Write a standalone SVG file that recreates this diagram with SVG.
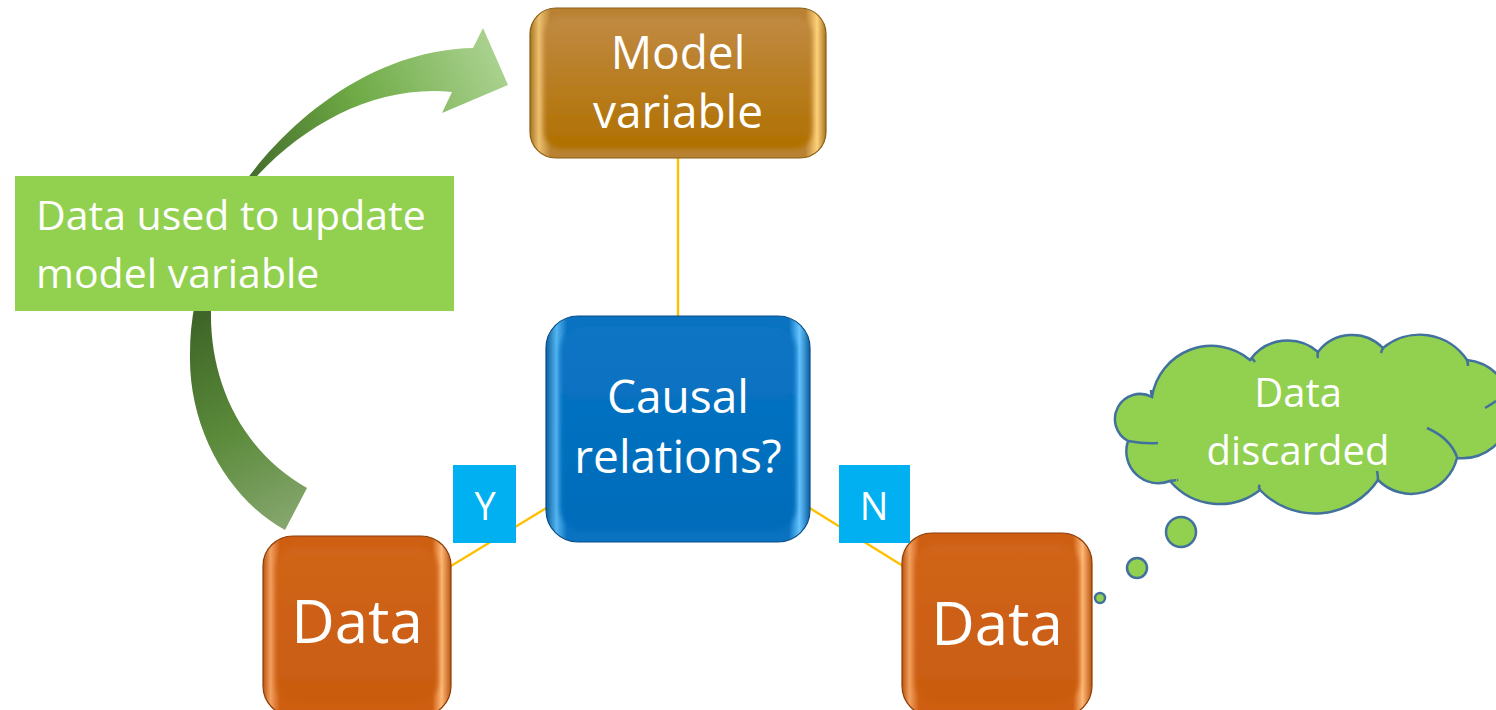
<svg xmlns="http://www.w3.org/2000/svg" width="1496" height="710" viewBox="0 0 1496 710">
<defs>
<style>
.t{font-family:"Open Sans","Noto Sans",sans-serif;fill:#fff;text-anchor:middle}
.ts{font-family:"Open Sans","Noto Sans",sans-serif;fill:#fff;text-anchor:start}
.conn{stroke:#FFC000;stroke-width:2.4;fill:none}
.cloud{fill:#92D050;stroke:#41719C;stroke-width:2.5}
.cl{fill:none;stroke:#41719C;stroke-width:2.5}
.soft{filter:url(#blur)}
</style>
<filter id="blur" x="-10%" y="-10%" width="120%" height="120%"><feGaussianBlur stdDeviation="2.5"/></filter>
<linearGradient id="orEdge" x1="0" y1="0" x2="1" y2="0">
<stop offset="0" stop-color="#B9550F"/><stop offset="0.04" stop-color="#F2A060"/><stop offset="0.09" stop-color="#CE5F12"/>
<stop offset="0.9" stop-color="#CE5F12"/><stop offset="0.95" stop-color="#FFB877"/><stop offset="1" stop-color="#B9550F"/>
</linearGradient>
<linearGradient id="orIn" x1="0" y1="0" x2="0" y2="1">
<stop offset="0" stop-color="#D0651A"/><stop offset="1" stop-color="#C95C10"/>
</linearGradient>
<linearGradient id="goEdge" x1="0" y1="0" x2="1" y2="0">
<stop offset="0" stop-color="#A5741E"/><stop offset="0.03" stop-color="#EDC070"/><stop offset="0.07" stop-color="#B98233"/>
<stop offset="0.93" stop-color="#B98233"/><stop offset="0.97" stop-color="#FFD27A"/><stop offset="1" stop-color="#A5741E"/>
</linearGradient>
<linearGradient id="goIn" x1="0" y1="0" x2="0" y2="1">
<stop offset="0" stop-color="#C08A42"/><stop offset="1" stop-color="#B07000"/>
</linearGradient>
<linearGradient id="blEdge" x1="0" y1="0" x2="1" y2="0">
<stop offset="0" stop-color="#0A5FA0"/><stop offset="0.04" stop-color="#55B5F0"/><stop offset="0.08" stop-color="#0A72C0"/>
<stop offset="0.92" stop-color="#0A72C0"/><stop offset="0.96" stop-color="#66C4FF"/><stop offset="1" stop-color="#0A5FA0"/>
</linearGradient>
<linearGradient id="blIn" x1="0" y1="0" x2="0" y2="1">
<stop offset="0" stop-color="#0A74C4"/><stop offset="1" stop-color="#006CBA"/>
</linearGradient>
<linearGradient id="arBot" gradientUnits="userSpaceOnUse" x1="200" y1="320" x2="300" y2="520">
<stop offset="0" stop-color="#3F6628"/><stop offset="0.5" stop-color="#5A8A3A"/><stop offset="1" stop-color="#86A66E"/>
</linearGradient>
<linearGradient id="arTop" gradientUnits="userSpaceOnUse" x1="240" y1="190" x2="500" y2="70">
<stop offset="0" stop-color="#3F6628"/><stop offset="0.5" stop-color="#6EAA45"/><stop offset="1" stop-color="#A9D18E"/>
</linearGradient>
<clipPath id="cA"><rect x="0" y="245" width="600" height="400"/></clipPath>
<clipPath id="cB"><rect x="0" y="0" width="600" height="245"/></clipPath>
<path id="arrow" d="M285,530 C230,500 188,430 190,353 C190,290 215,225 250,175 C300,110 380,50 473,48 L483,28 L508,85 L442,113 L452,92 C380,85 310,120 258,175 C225,215 211,260 211,312 C210,380 240,450 307,488 Z"/>
</defs>

<g id="connectors">
<line class="conn" x1="678" y1="158" x2="678" y2="318"/>
<line class="conn" x1="548" y1="507" x2="451" y2="566"/>
<line class="conn" x1="808" y1="507" x2="903" y2="566"/>
</g>

<g id="curved-arrow">
<use href="#arrow" fill="url(#arBot)" clip-path="url(#cA)"/>
<use href="#arrow" fill="url(#arTop)" clip-path="url(#cB)"/>
</g>

<g id="model-variable">
<rect x="530" y="8" width="296" height="150" rx="26" fill="url(#goEdge)" stroke="#8A5E14" stroke-width="1.2"/>
<rect class="soft" x="544" y="17" width="268" height="132" rx="18" fill="url(#goIn)"/>
<text class="t" x="678" y="69" font-size="46">Model</text>
<text class="t" x="678" y="128" font-size="46">variable</text>
</g>

<g id="causal-relations">
<rect x="546" y="316" width="264" height="226" rx="32" fill="url(#blEdge)" stroke="#0A4F88" stroke-width="1.2"/>
<rect class="soft" x="560" y="327" width="236" height="204" rx="24" fill="url(#blIn)"/>
<text class="t" x="678" y="413" font-size="46">Causal</text>
<text class="t" x="678" y="473" font-size="46">relations?</text>
</g>

<g id="data-yes">
<rect x="263" y="536" width="188" height="180" rx="30" fill="url(#orEdge)" stroke="#8E3D08" stroke-width="1.2"/>
<rect class="soft" x="276" y="547" width="162" height="156" rx="22" fill="url(#orIn)"/>
<text class="t" x="357" y="643" font-size="60">Data</text>
</g>

<g id="data-no">
<rect x="902" y="533" width="190" height="183" rx="30" fill="url(#orEdge)" stroke="#8E3D08" stroke-width="1.2"/>
<rect class="soft" x="915" y="544" width="164" height="159" rx="22" fill="url(#orIn)"/>
<text class="t" x="997" y="645" font-size="60">Data</text>
</g>

<g id="label-y">
<rect x="453" y="465" width="63" height="78" fill="#00B0F0"/>
<text class="t" x="485" y="520" font-size="38">Y</text>
</g>

<g id="label-n">
<rect x="839" y="465" width="71" height="78" fill="#00B0F0"/>
<text class="t" x="874" y="520" font-size="38">N</text>
</g>

<g id="update-label">
<rect x="15" y="176" width="439" height="135" fill="#92D050"/>
<text class="ts" x="36" y="230" font-size="41">Data used to update</text>
<text class="ts" x="36" y="288" font-size="41">model variable</text>
</g>

<g id="discarded-cloud">
<path class="cloud" d="M1152,397 A60,60 0 0 1 1250,360 A46,46 0 0 1 1318,352 A43,43 0 0 1 1383,348 A57,57 0 0 1 1467,360 A49,49 0 0 1 1457,458 A47,47 0 0 1 1378,480 A76,76 0 0 1 1260,490 A65,65 0 0 1 1170,481 A32,32 0 0 1 1128,441 A25,25 0 0 1 1152,397 Z"/>
<path class="cl" d="M1427,428 Q1450,438 1457,457"/>
<path class="cl" d="M1485,408 Q1492,404 1496,401"/>
<path class="cl" d="M1128,441 Q1145,444 1158,443"/>
<path class="cl" d="M1170,481 Q1178,480 1177,480"/>
<path class="cl" d="M1260,490 Q1258,487 1260,485"/>
<path class="cl" d="M1378,480 Q1378,476 1377,471"/>
<path class="cl" d="M1250,360 Q1252,357 1255,362"/>
<path class="cl" d="M1318,352 Q1317,355 1318,358"/>
<path class="cl" d="M1383,348 Q1382,350 1381,353"/>
<path class="cl" d="M1467,360 Q1468,363 1468,366"/>
<path class="cl" d="M1152,397 Q1151,394 1151,390"/>
<circle class="cloud" cx="1181" cy="532" r="15"/>
<circle class="cloud" cx="1137" cy="568" r="10"/>
<circle class="cloud" cx="1100" cy="598" r="5"/>
<text class="t" x="1298" y="407" font-size="40">Data</text>
<text class="t" x="1298" y="465" font-size="40">discarded</text>
</g>
</svg>
